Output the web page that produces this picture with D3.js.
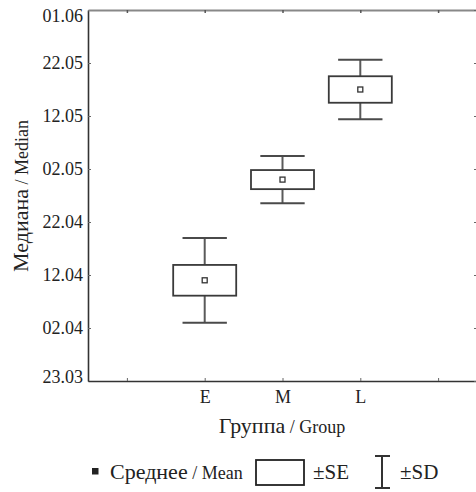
<!DOCTYPE html>
<html>
<head>
<meta charset="utf-8">
<script src="https://cdnjs.cloudflare.com/ajax/libs/d3/7.8.5/d3.min.js"></script>
<style>
  body { margin: 0; background: #fff; }
  svg { display: block; font-family: "Liberation Serif", "Times New Roman", serif; }
  .axis text { font-family: "Liberation Serif", "Times New Roman", serif; font-size: 18px; fill: #222; }
</style>
</head>
<body>
<svg id="chart" width="476" height="492"></svg>
<script>
// data (dates dd.mm, spreads in days)
var groups = ["E", "M", "L"];
var meanDates = ["11.04", "30.04", "17.05"];
var seDays = [2.9, 1.8, 2.5];
var sdDays = [8.0, 4.45, 5.6];
var yTickLabels = ["23.03", "02.04", "12.04", "22.04", "02.05", "12.05", "22.05", "01.06"];

var parse = d3.utcParse("%d.%m");
var DAY = 864e5;
function shift(d, days) { return new Date(d.getTime() + days * DAY); }

var svg = d3.select("#chart");
var mLeft = 88, mRight = 477, mTop = 10, mBottom = 381;

var xDomain = [""].concat(groups).concat([" "]);
var x = d3.scalePoint().domain(xDomain).range([mLeft, mRight]).padding(0.5);
var y = d3.scaleUtc()
  .domain([parse(yTickLabels[0]), parse(yTickLabels[yTickLabels.length - 1])])
  .range([mBottom, mTop]);
var yTicks = yTickLabels.map(parse);
var step = x.step();

// axes
var gl = svg.append("g").attr("class", "axis").attr("transform", "translate(" + mLeft + ",0)")
  .call(d3.axisLeft(y).tickValues(yTicks).tickFormat(d3.utcFormat("%d.%m")).tickSizeInner(-3).tickSizeOuter(0).tickPadding(5));
gl.select(".domain").attr("stroke", "#333").attr("stroke-width", 1.6);
gl.selectAll(".tick line").attr("stroke", "#666");
gl.selectAll(".tick text").filter(function (d, i) { return i === yTicks.length - 1; }).attr("dy", "0.65em");
gl.selectAll(".tick text").filter(function (d, i) { return i === 0; }).attr("dy", "0.1em");

var gb = svg.append("g").attr("class", "axis").attr("transform", "translate(0," + mBottom + ")")
  .call(d3.axisBottom(x).tickSizeInner(-3).tickSizeOuter(0).tickPadding(9));
gb.select(".domain").attr("stroke", "#333").attr("stroke-width", 1.6);
gb.selectAll(".tick line").attr("stroke", "#666");

var gt = svg.append("g").attr("class", "axis").attr("transform", "translate(0," + mTop + ")")
  .call(d3.axisTop(x).tickSizeInner(-3).tickSizeOuter(0).tickFormat(""));
gt.select(".domain").attr("stroke", "#888").attr("stroke-width", 2);
gt.selectAll(".tick line").attr("stroke", "#555").attr("stroke-width", 1.5);

var gr = svg.append("g").attr("class", "axis").attr("transform", "translate(" + mRight + ",0)")
  .call(d3.axisRight(y).tickValues(yTicks).tickSizeInner(-3).tickSizeOuter(0).tickFormat(""));
gr.select(".domain").attr("stroke", "#333").attr("stroke-width", 1.6);
gr.selectAll(".tick line").attr("stroke", "#666");

// boxes
var data = groups.map(function (g, i) {
  return { g: g, mean: parse(meanDates[i]), se: seDays[i], sd: sdDays[i] };
});

var box = svg.append("g").selectAll("g").data(data).enter().append("g");
var bw = step * 0.81, cw = step * 0.57;

box.append("line")
  .attr("x1", function (d) { return x(d.g); }).attr("x2", function (d) { return x(d.g); })
  .attr("y1", function (d) { return y(shift(d.mean, d.sd)); })
  .attr("y2", function (d) { return y(shift(d.mean, -d.sd)); })
  .attr("stroke", "#5a5a5a").attr("stroke-width", 2);
[1, -1].forEach(function (s) {
  box.append("line")
    .attr("x1", function (d) { return x(d.g) - cw / 2; }).attr("x2", function (d) { return x(d.g) + cw / 2; })
    .attr("y1", function (d) { return y(shift(d.mean, s * d.sd)); })
    .attr("y2", function (d) { return y(shift(d.mean, s * d.sd)); })
    .attr("stroke", "#4a4a4a").attr("stroke-width", 2);
});
box.append("rect")
  .attr("x", function (d) { return x(d.g) - bw / 2; })
  .attr("y", function (d) { return y(shift(d.mean, d.se)); })
  .attr("width", bw)
  .attr("height", function (d) { return y(shift(d.mean, -d.se)) - y(shift(d.mean, d.se)); })
  .attr("fill", "#fff").attr("stroke", "#3a3a3a").attr("stroke-width", 1.8);
box.append("rect")
  .attr("x", function (d) { return x(d.g) - 2.5; })
  .attr("y", function (d) { return y(d.mean) - 2.5; })
  .attr("width", 5).attr("height", 5)
  .attr("fill", "#fff").attr("stroke", "#333").attr("stroke-width", 1.3);

// titles
var yl = svg.append("text")
  .attr("transform", "translate(28,196) rotate(-90)")
  .attr("text-anchor", "middle").attr("fill", "#222");
yl.append("tspan").attr("font-size", 22).text("Медиана");
yl.append("tspan").attr("font-size", 18).text(" / Median");

var xl = svg.append("text")
  .attr("x", 282).attr("y", 433)
  .attr("text-anchor", "middle").attr("fill", "#222");
xl.append("tspan").attr("font-size", 22).text("Группа");
xl.append("tspan").attr("font-size", 18).text(" / Group");

// legend
var lg = svg.append("g").attr("fill", "#222");
lg.append("rect").attr("x", 92).attr("y", 468).attr("width", 6.5).attr("height", 6.5).attr("fill", "#222");
var lt = lg.append("text").attr("x", 110).attr("y", 479);
lt.append("tspan").attr("font-size", 22).text("Среднее");
lt.append("tspan").attr("font-size", 18).text(" / Mean");
lg.append("rect").attr("x", 256).attr("y", 460).attr("width", 48).attr("height", 25)
  .attr("fill", "#fff").attr("stroke", "#222").attr("stroke-width", 1.8);
lg.append("text").attr("x", 313).attr("y", 479).attr("font-size", 21).text("±SE");
lg.append("line").attr("x1", 382).attr("x2", 382).attr("y1", 456).attr("y2", 488).attr("stroke", "#333").attr("stroke-width", 2);
lg.append("line").attr("x1", 375).attr("x2", 390).attr("y1", 456).attr("y2", 456).attr("stroke", "#333").attr("stroke-width", 2);
lg.append("line").attr("x1", 375).attr("x2", 390).attr("y1", 488).attr("y2", 488).attr("stroke", "#333").attr("stroke-width", 2);
lg.append("text").attr("x", 400).attr("y", 479).attr("font-size", 21).text("±SD");
</script>
</body>
</html>
